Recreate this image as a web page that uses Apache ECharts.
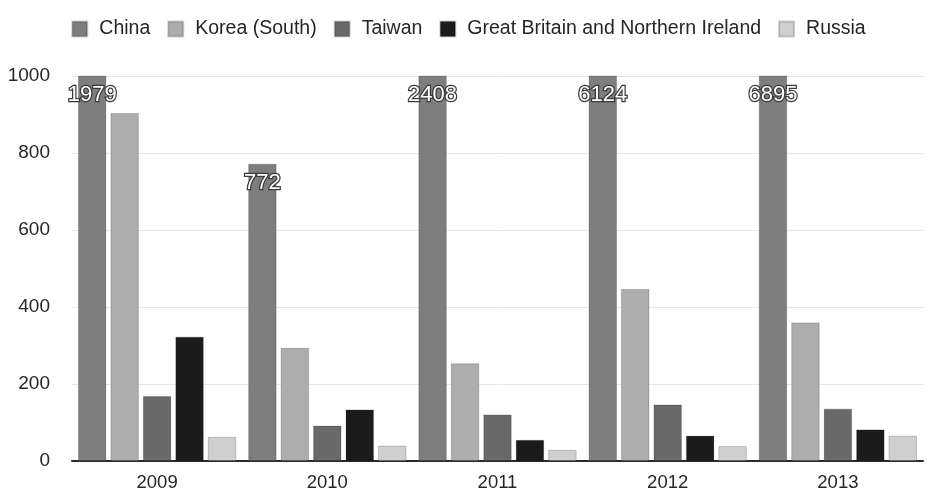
<!DOCTYPE html>
<html>
<head>
<meta charset="utf-8">
<title>Bar chart by country, 2009–2013</title>
<script src="https://cdn.jsdelivr.net/npm/echarts@6/dist/echarts.min.js"></script>
<style>
  html, body { margin: 0; padding: 0; background: #ffffff; }
  #chart { width: 937px; height: 493px; }
</style>
</head>
<body>
<div id="chart"></div>
<script>
// Years on the category axis
const years = ['2009', '2010', '2011', '2012', '2013'];

// Values per country and year
const china = [1979, 772, 2408, 6124, 6895];
const korea = [904, 294, 254, 447, 360];
const taiwan = [169, 92, 121, 147, 136];
const greatBritain = [323, 134, 55, 66, 82];
const russia = [63, 40, 29, 39, 66];

// Value axis ticks
const yMin = 0;
const yMax = 1000;
const yStep = 200;

const FONT = '"Liberation Sans", Arial, Helvetica, sans-serif';
const TEXT = '#262626';

function barSeries(name, data, color, withLabel) {
  const s = {
    name: name,
    type: 'bar',
    data: data,
    clip: true,
    itemStyle: { color: color, borderColor: 'rgba(0,0,0,0.18)', borderWidth: 1 },
    emphasis: { disabled: true }
  };
  if (withLabel) {
    s.label = {
      show: true,
      position: 'insideTop',
      distance: 8,
      fontFamily: FONT,
      fontSize: 22,
      color: '#ffffff',
      textBorderColor: '#3a3a3a',
      textBorderWidth: 2.5
    };
  }
  return s;
}

const chart = echarts.init(document.getElementById('chart'), null, { renderer: 'canvas' });

chart.setOption({
  animation: false,
  backgroundColor: '#ffffff',
  textStyle: { fontFamily: FONT },
  legend: {
    top: 14,
    left: 'center',
    icon: 'rect',
    itemWidth: 15,
    itemHeight: 15,
    itemGap: 17,
    selectedMode: false,
    textStyle: {
      fontFamily: FONT,
      fontSize: 19.5,
      color: TEXT,
      padding: [0, 0, 0, 7]
    }
  },
  grid: { left: 72, right: 14, top: 76, bottom: 32, containLabel: false },
  xAxis: {
    type: 'category',
    data: years,
    axisLine: { show: true, lineStyle: { color: '#2a2a2a', width: 2 } },
    axisTick: { show: false },
    axisLabel: { fontFamily: FONT, fontSize: 18.5, color: TEXT, margin: 12 }
  },
  yAxis: {
    type: 'value',
    min: yMin,
    max: yMax,
    interval: yStep,
    axisLine: { show: false },
    axisTick: { show: false },
    axisLabel: {
      fontFamily: FONT,
      fontSize: 19,
      color: TEXT,
      margin: 22,
      formatter: function (v) { return String(v); }
    },
    splitLine: { show: true, lineStyle: { color: '#e8e8e8', width: 1 } }
  },
  series: [
    Object.assign(barSeries('China', china, '#7e7e7e', true), { barGap: '14%', barCategoryGap: '7%' }),
    barSeries('Korea (South)', korea, '#adadad', false),
    barSeries('Taiwan', taiwan, '#696969', false),
    barSeries('Great Britain and Northern Ireland', greatBritain, '#1b1b1b', false),
    barSeries('Russia', russia, '#cfcfcf', false)
  ]
});
</script>
</body>
</html>
